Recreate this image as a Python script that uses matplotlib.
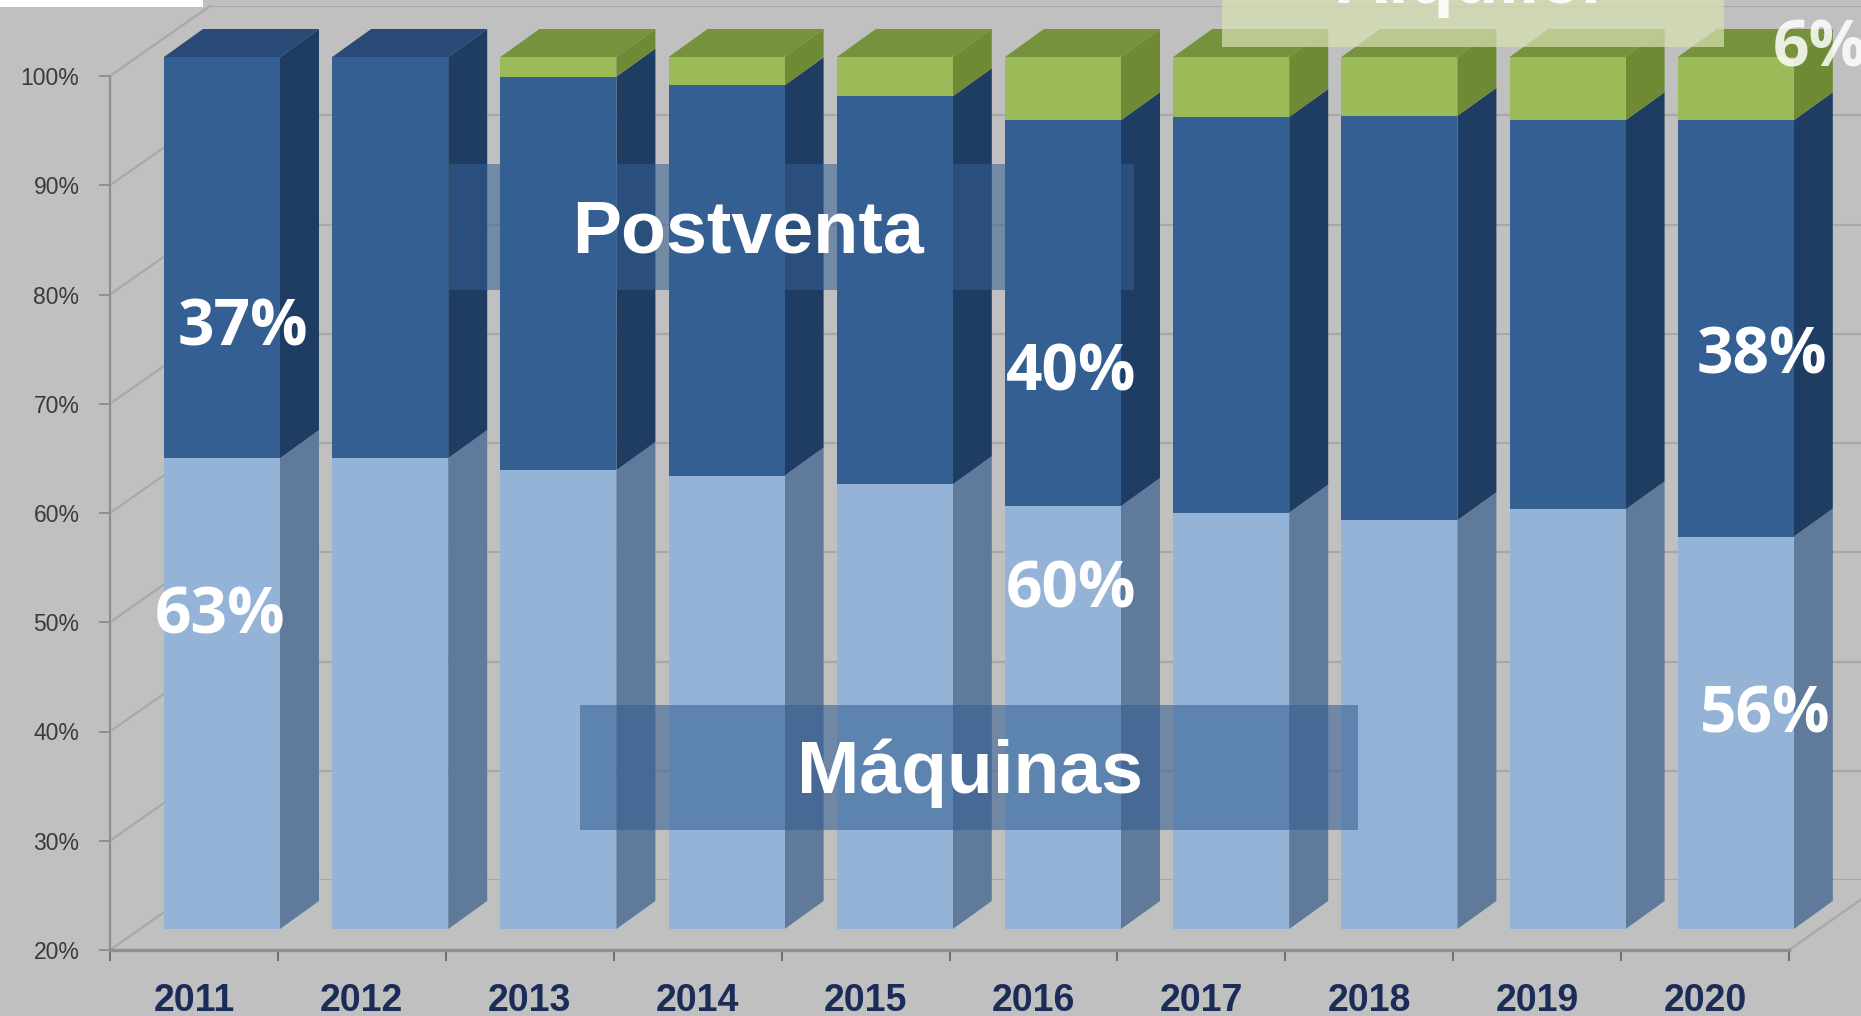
import matplotlib
matplotlib.use("Agg")
import matplotlib.pyplot as plt
from matplotlib.patches import Rectangle
import numpy as np

# =========================
# Data
# =========================
years = ["2011", "2012", "2013", "2014", "2015", "2016", "2017", "2018", "2019", "2020"]
maquinas = [63.2, 63.2, 62.1, 61.6, 60.8, 58.8, 58.2, 57.5, 58.5, 56.0]
postventa = [36.8, 36.8, 36.1, 35.8, 35.6, 35.4, 36.3, 37.1, 35.7, 38.2]
alquiler = [0.0, 0.0, 1.8, 2.6, 3.6, 5.8, 5.5, 5.4, 5.8, 5.8]
pct_ticks = [20, 30, 40, 50, 60, 70, 80, 90, 100]
pct_labels = ["20%", "30%", "40%", "50%", "60%", "70%", "80%", "90%", "100%"]

# =========================
# Layout, in pixels of the 1861x1016 picture
# =========================
W, H = 1861, 1016
BG = "#c0c0c0"
GRID = "#a8a8a8"
AXIS = "#8f8f8f"
FRONT = ["#95b3d7", "#345f92", "#9bbb59"]
SIDE = ["#5f7a9b", "#1f3d63", "#6f8a35"]
TOP = ["#5f7a9b", "#294a76", "#76923c"]

plt.rcParams["font.family"] = ["Liberation Sans", "DejaVu Sans"]

fig = plt.figure(figsize=(W / 100, H / 100), dpi=100, facecolor=BG)


def box(left, top, right, bottom):
    return [left / W, 1 - bottom / H, (right - left) / W, (bottom - top) / H]


def label(x, y, txt, size, family="Open Sans", **kw):
    fig.text(x / W, 1 - y / H, txt, fontsize=size, color="white", ha="center", va="center",
             family=[family, "DejaVu Sans"], fontweight="bold", zorder=5, **kw)


# back wall with its grid, shifted from the front axis
ax_wall = fig.add_axes(box(210, 6, 1889, 880), zorder=0)
ax_wall.set_xlim(0, 10)
ax_wall.set_ylim(20, 100)
ax_wall.set_facecolor("none")
ax_wall.set_yticks(pct_ticks)
ax_wall.set_xticks([])
ax_wall.tick_params(length=0, labelleft=False)
ax_wall.grid(axis="y", color=GRID, linewidth=1.6)
for s in ax_wall.spines.values():
    s.set_visible(False)
for t in pct_ticks:
    ax_wall.plot([-100 / 167.9, 0], [t - 70 / 10.925, t], color=GRID, lw=1.6, clip_on=False)
ax_wall.plot([10 - 100 / 167.9, 10], [20 - 70 / 10.925, 20], color=GRID, lw=1.6, clip_on=False)

# bars
ax = fig.add_axes([0, 0, 1, 1], zorder=1)
ax.set_facecolor("none")
ax.set_xlim((0 - 222) / 168.2, (W - 222) / 168.2)
ax.set_ylim(100 - (H - 57) / 10.9, 100 + 57 / 10.9)
ax.axis("off")

bar_w = 116 / 168.2
dx = 39 / 168.2
dy = 28 / 10.9
x = np.arange(len(years))
bottom = np.full(len(years), 20.0)
series = [np.array(maquinas) - 20, np.array(postventa), np.array(alquiler)]

for k, vals in enumerate(series):
    ax.bar(x, vals, bar_w, bottom=bottom, color=FRONT[k], linewidth=0, zorder=3)
    top = bottom + vals
    for i in x:
        if vals[i] <= 0:
            continue
        xr = i + bar_w / 2
        ax.fill([xr, xr + dx, xr + dx, xr],
                [bottom[i], bottom[i] + dy, top[i] + dy, top[i]],
                color=SIDE[k], linewidth=0, zorder=2)
        if k == 2 or alquiler[i] <= 0:
            if top[i] >= 99.9:
                ax.fill([xr - bar_w, xr - bar_w + dx, xr + dx, xr],
                        [top[i], top[i] + dy, top[i] + dy, top[i]],
                        color=TOP[k], linewidth=0, zorder=2)
    bottom = top

# front axis, ticks at the category edges and years between them
ax_front = fig.add_axes(box(110, 76, 1789, 950), zorder=2)
ax_front.set_facecolor("none")
ax_front.set_xlim(0, 10)
ax_front.set_ylim(20, 100)
ax_front.set_yticks(pct_ticks)
ax_front.set_yticklabels(pct_labels, fontsize=16.5, color="#3a3a3a")
ax_front.set_xticks(np.arange(11))
ax_front.set_xticklabels([])
ax_front.set_xticks(x + 0.5, minor=True)
ax_front.set_xticklabels(years, minor=True, fontsize=27, fontweight="bold", color="#1c2c58")
ax_front.tick_params(axis="x", which="major", length=8, color="#6f6f6f", width=1.4)
ax_front.tick_params(axis="x", which="minor", length=0, pad=24)
ax_front.tick_params(axis="y", length=8, color=AXIS, width=1.4, pad=14)
ax_front.spines["top"].set_visible(False)
ax_front.spines["right"].set_visible(False)
ax_front.spines["left"].set_color(AXIS)
ax_front.spines["bottom"].set_color(AXIS)
ax_front.spines["left"].set_linewidth(1.6)
ax_front.spines["bottom"].set_linewidth(2.4)

# callout boxes over the bars
for l, t, r, b, c, a in [(449, 164, 1134, 290, "#345f92", 0.55),
                         (580, 705, 1358, 830, "#345f92", 0.57),
                         (1222, 0, 1724, 47, "#d5e0b0", 0.72)]:
    fig.add_artist(Rectangle((l / W, 1 - b / H), (r - l) / W, (b - t) / H, transform=fig.transFigure,
                             facecolor=c, alpha=a, linewidth=0, zorder=4))
fig.add_artist(Rectangle((0, 1 - 7 / H), 203 / W, 7 / H, transform=fig.transFigure,
                         facecolor="white", linewidth=0, zorder=4))

label(748, 233, "Postventa", 53, family="Liberation Sans")
label(970, 773, "Máquinas", 54, family="Liberation Sans")
label(1472, -16, "Alquiler", 53, family="Liberation Sans", alpha=0.9)
label(243, 329, "37%", 46)
label(220, 617, "63%", 46)
label(1071, 374, "40%", 46)
label(1071, 591, "60%", 46)
label(1762, 357, "38%", 46)
label(1765, 716, "56%", 46)
label(1820, 50, "6%", 46, alpha=0.85)

fig.savefig("out.png", dpi=100, facecolor=BG)
plt.close(fig)
